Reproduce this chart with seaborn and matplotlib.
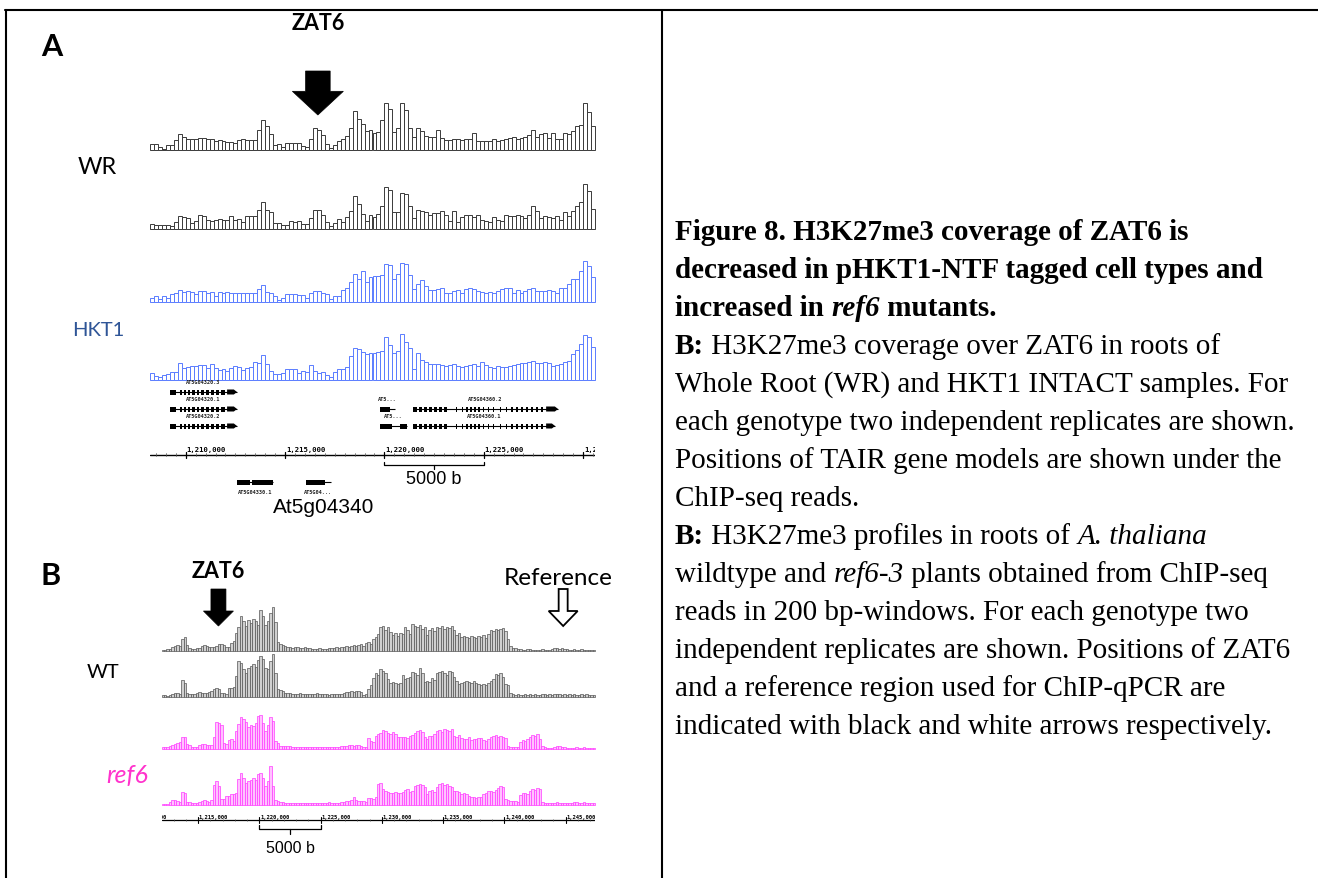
import numpy as np
import pandas as pd
import matplotlib
matplotlib.use("Agg")
import matplotlib.pyplot as plt
import seaborn as sns
from matplotlib.patches import Polygon, Rectangle

# ---------------------------------------------------------------- data
BIN = 200
A_START, A_END = 1208200, 1230600          # panel A window (200 bp bins)
B_START, B_END = 1212000, 1247400          # panel B window (200 bp bins)

WR_REP1 = [6,6,3,1,5,5,10,16,13,11, 11,11,12,12,11,11,9,10,9,8,
           8,7,10,11,10,10,10,20,30,24, 16,5,6,3,7,7,7,7,4,3,
           11,22,20,15,6,2,5,9,11,14, 22,39,31,26,19,20,17,18,30,47,
           41,18,22,47,40,22,13,22,19,14, 13,13,20,12,10,10,11,11,10,11,
           11,17,9,9,9,9,11,9,10,11, 12,13,11,12,13,15,20,13,16,17,
           12,17,11,11,17,16,19,24,25,47, 38,24]
WR_REP2 = [5,4,4,4,4,3,7,13,12,11, 6,8,14,13,9,8,9,10,9,9,
           13,9,10,7,13,13,13,19,27,19, 17,6,6,4,4,8,7,8,5,5,
           11,19,19,14,7,3,6,10,7,12, 18,33,25,15,8,14,12,15,23,42,
           39,17,17,36,35,23,11,19,18,17, 14,16,16,18,14,8,18,7,12,14,
           14,12,14,9,8,7,12,9,8,14, 13,13,14,13,11,14,23,18,11,13,
           12,11,13,9,17,13,18,23,27,45, 38,20]
HKT1_REP1 = [4,6,3,6,4,8,9,12,10,11, 10,8,11,11,9,10,6,10,9,10,
             9,9,9,9,9,9,9,13,17,10, 9,6,2,4,8,8,8,7,7,4,
             9,11,11,9,8,3,6,6,12,14, 20,28,23,31,20,25,26,26,27,38,
             37,23,28,39,38,27,13,18,22,16, 12,12,13,14,9,9,11,12,9,13,
             14,13,11,10,9,10,9,11,13,14, 14,9,12,9,11,13,14,11,11,11,
             12,11,9,14,14,18,23,23,31,41, 36,25]
HKT1_REP2 = [7,4,3,5,6,8,8,17,12,13, 14,14,15,15,12,16,12,10,11,9,
             12,14,13,10,12,13,18,17,25,16, 9,6,6,7,11,11,11,7,9,8,
             15,9,7,8,5,3,8,11,11,13, 24,32,31,28,26,27,27,28,29,43,
             35,27,29,46,38,32,11,27,20,18, 16,16,16,15,14,15,16,14,13,14,
             15,16,14,18,15,13,12,14,13,13, 14,15,16,17,17,18,19,17,17,18,
             17,14,15,16,18,19,26,30,36,45, 43,33]

WT_REP1 = [1,1,2,2,4,5,6,5,12,14, 6,3,2,2,3,3,5,6,5,4,
           4,4,5,7,7,6,4,4,8,10, 18,24,35,30,25,31,28,32,30,26,
           41,35,26,30,38,44,29,9,7,6, 5,4,4,3,4,4,3,3,4,3,
           3,2,2,2,3,2,2,2,3,3, 3,4,3,4,4,5,4,5,6,5,
           6,7,5,8,9,7,12,14,17,24, 25,21,24,19,16,18,15,18,17,24,
           21,17,27,25,24,26,22,24,16,21, 23,20,24,23,25,22,24,23,25,21,
           16,18,14,15,14,13,15,14,13,15, 14,16,13,17,21,20,22,21,22,23,
           20,12,5,3,3,2,2,1,1,2, 2,1,1,1,1,2,1,1,1,2,
           3,3,2,3,2,2,1,1,2,1, 1,2,1,1,1,1,1]
WT_REP2 = [2,2,1,2,3,4,4,3,17,14, 4,3,3,3,4,5,4,4,4,5,
           6,8,9,8,4,4,3,9,9,10, 21,36,34,28,24,29,31,33,30,37,
           41,38,29,28,36,43,24,8,7,6, 4,4,4,3,3,3,4,3,3,3,
           3,3,3,4,3,3,3,3,2,3, 3,3,3,3,4,5,5,6,5,6,
           6,5,2,3,8,12,19,24,22,28, 26,24,18,14,15,14,13,14,22,18,
           19,20,25,24,22,29,24,15,16,15, 19,17,24,25,26,24,22,26,25,20,
           16,13,14,15,16,15,14,16,14,13, 12,13,12,14,16,18,23,22,24,20,
           13,12,4,3,2,3,2,2,3,2, 3,2,3,2,2,3,3,2,3,2,
           3,3,3,2,3,2,3,2,3,2, 2,3,2,3,2,2,2]
REF6_REP1 = [2,2,2,3,4,5,6,7,12,12, 5,4,2,2,2,4,5,5,4,4,
             4,12,27,26,24,6,5,9,10,8, 18,25,32,30,27,22,24,23,26,33,
             34,26,18,24,32,28,8,6,3,3, 3,3,3,2,2,2,2,2,2,2,
             2,2,2,2,2,2,2,2,2,2, 2,2,2,3,3,3,4,4,3,4,
             4,3,2,2,11,8,7,13,15,16, 19,18,16,15,17,15,12,12,12,12,
             11,13,14,16,18,19,17,12,10,13, 13,15,18,19,17,20,19,18,20,13,
             12,14,11,10,10,12,9,10,10,11, 11,9,8,10,12,13,14,12,13,12,
             11,3,2,2,2,2,7,9,8,10, 12,14,13,15,10,3,2,1,1,1,
             2,3,3,2,2,1,1,1,1,2, 1,1,2,1,1,1,1]
REF6_REP2 = [1,1,1,3,5,5,4,3,13,12, 3,3,2,2,2,3,4,5,4,3,
             5,20,24,19,6,6,9,9,11,11, 12,26,32,27,22,24,25,27,25,31,
             32,27,19,24,39,19,5,4,3,3, 2,2,2,2,2,2,2,2,2,2,
             2,2,2,2,2,2,2,2,3,2, 2,2,2,3,3,4,4,5,8,5,
             4,4,4,3,7,7,6,8,21,22, 16,14,13,12,12,13,12,12,13,15,
             16,13,14,19,20,21,20,18,11,14, 15,13,18,21,22,20,21,19,18,14,
             14,13,11,12,11,9,8,8,7,8, 8,11,12,14,14,13,15,17,19,18,
             6,5,4,4,4,3,10,12,12,11, 14,16,15,17,16,3,2,2,2,2,
             2,3,2,2,2,2,2,2,3,3, 2,2,3,2,2,2,2]

ZAT6_POS = 1216650
REF_POS = 1244800
A_TICKS = [1210000, 1215000, 1220000, 1225000, 1230000]
B_TICKS = [1210000, 1215000, 1220000, 1225000, 1230000, 1235000, 1240000, 1245000]
SCALE_BAR = (1220000, 1225000)

# gene models (TAIR)
AT5G04320_EXONS = [(1209210,1209510),(1209710,1209810),(1209910,1210010),(1210110,1210210),
                   (1210310,1210460),(1210570,1210670),(1210770,1210920),(1211020,1211170),
                   (1211270,1211420),(1211520,1211670),(1211770,1211980),(1212080,1212580)]
AT5G04350_2_EXONS = [(1219780,1220280)]
AT5G04350_1_EXONS = [(1219780,1220380),(1220790,1221140)]
AT5G04360_EXONS = [(1221440,1221640),(1221740,1221890),(1221990,1222140),(1222250,1222400),
                   (1222500,1222650),(1222750,1222900),(1223000,1223150),(1223600,1223650),
                   (1223910,1223960),(1224110,1224210),(1224310,1224410),(1224510,1224610),
                   (1224710,1224810),(1224960,1225010),(1225220,1225270),(1225470,1225520),
                   (1225820,1225870),(1226120,1226170),(1226370,1226470),(1226620,1226720),
                   (1226880,1226980),(1227130,1227230),(1227380,1227480),(1227630,1227730),
                   (1227880,1227980),(1228140,1228740)]
AT5G04360_1_LAST = (1228140,1228590)
AT5G04330_EXONS = [(1212580,1213230),(1213340,1214390)]
AT5G04340_EXONS = [(1216050,1217010)]

CAPTION = [
    [("Figure 8. H3K27me3 coverage of ZAT6 is", "bold", "normal")],
    [("decreased in pHKT1-NTF tagged cell types and", "bold", "normal")],
    [("increased in ", "bold", "normal"), ("ref6", "bold", "italic"), (" mutants.", "bold", "normal")],
    [("B:", "bold", "normal"), (" H3K27me3 coverage over ZAT6 in roots of", "normal", "normal")],
    [("Whole Root (WR) and HKT1 INTACT samples. For", "normal", "normal")],
    [("each genotype two independent replicates are shown.", "normal", "normal")],
    [("Positions of TAIR gene models are shown under the", "normal", "normal")],
    [("ChIP-seq reads.", "normal", "normal")],
    [("B:", "bold", "normal"), (" H3K27me3 profiles in roots of ", "normal", "normal"),
     ("A. thaliana", "normal", "italic")],
    [("wildtype and ", "normal", "normal"), ("ref6-3", "normal", "italic"),
     (" plants obtained from ChIP-seq", "normal", "normal")],
    [("reads in 200 bp-windows. For each genotype two", "normal", "normal")],
    [("independent replicates are shown. Positions of ZAT6", "normal", "normal")],
    [("and a reference region used for ChIP-qPCR are", "normal", "normal")],
    [("indicated with black and white arrows respectively.", "normal", "normal")],
]

# ---------------------------------------------------------------- figure
W, H, DPI = 1318, 879, 100
sns.set_theme(style="white")
plt.rcParams['font.family'] = ['Lato', 'DejaVu Sans']
plt.rcParams['text.color'] = 'black'

fig = plt.figure(figsize=(W / DPI, H / DPI), dpi=DPI, facecolor="white")
ov = fig.add_axes([0, 0, 1, 1], zorder=0)
ov.set_xlim(0, W); ov.set_ylim(H, 0); ov.axis("off")

A_PX = (150.0, 595.0)
B_PX = (161.5, 595.0)


def gxA(g):
    return A_PX[0] + (g - A_START) / (A_END - A_START) * (A_PX[1] - A_PX[0])


def gxB(g):
    return B_PX[0] + (g - B_START) / (B_END - B_START) * (B_PX[1] - B_PX[0])


def px_axes(x0, y0, x1, y1, z=2):
    ax = fig.add_axes([x0 / W, 1 - y1 / H, (x1 - x0) / W, (y1 - y0) / H], zorder=z)
    ax.patch.set_alpha(0)
    return ax


def track(vals, start, end, pxr, baseline, top, face, edge, lw):
    ax = px_axes(pxr[0], baseline - top, pxr[1], baseline)
    edges = [float(e) for e in range(start, end + BIN, BIN)]
    df = pd.DataFrame({"pos": [e + BIN / 2 for e in edges[:-1]],
                       "signal": [float(v) for v in vals]})
    sns.histplot(data=df, x="pos", weights="signal", bins=edges, ax=ax,
                 element="bars", fill=True, facecolor=face, edgecolor=edge,
                 linewidth=lw, alpha=1)
    for p in ax.patches:
        p.set_clip_on(False)
    ax.set_xlim(start, end); ax.set_ylim(0, top); ax.axis("off")
    return ax


# panel A tracks
track(WR_REP1, A_START, A_END, A_PX, 150.7, 50, "white", "#3a3a3a", 0.7)
track(WR_REP2, A_START, A_END, A_PX, 230.0, 50, "white", "#3a3a3a", 0.7)
track(HKT1_REP1, A_START, A_END, A_PX, 302.7, 50, "white", "#5a7cff", 0.7)
track(HKT1_REP2, A_START, A_END, A_PX, 381.0, 50, "white", "#5a7cff", 0.7)

# panel B tracks
track(WT_REP1, B_START, B_END, B_PX, 652.0, 46, "#d0d0d0", "#555555", 0.5)
track(WT_REP2, B_START, B_END, B_PX, 697.7, 46, "#d0d0d0", "#555555", 0.5)
track(REF6_REP1, B_START, B_END, B_PX, 750.0, 46, "#ffc2ff", "#ff3cff", 0.5)
track(REF6_REP2, B_START, B_END, B_PX, 805.7, 46, "#ffc2ff", "#ff3cff", 0.5)

# ---------------------------------------------------------------- gene models + ruler A
ga = px_axes(A_PX[0], 375, A_PX[1], 520, z=3)
ga.set_xlim(A_START, A_END); ga.set_ylim(520, 375); ga.axis("off")
MONO = ["DejaVu Sans Mono"]


def gene(ax, exons, y, label, end=None, arrow=False, label_dy=-10, h=5.0, lab_size=3.8):
    s = exons[0][0]
    e = end if end is not None else exons[-1][1]
    ax.plot([s, e], [y, y], color="black", lw=0.8, solid_capstyle="butt")
    for i, (a, b) in enumerate(exons):
        if arrow and i == len(exons) - 1:
            tip = min(160, (b - a) * 0.5)
            ax.add_patch(Polygon([(a, y - h / 2), (b - tip, y - h / 2), (b, y),
                                  (b - tip, y + h / 2), (a, y + h / 2)],
                                 closed=True, color="black", lw=0))
        else:
            ax.add_patch(Rectangle((a, y - h / 2), b - a, h, color="black", lw=0))
    ax.text((s + e) / 2, y + label_dy, label, fontsize=lab_size, family=MONO,
            fontweight="bold", ha="center", va="center", color="#222222")


gene(ga, AT5G04320_EXONS, 393, "AT5G04320.3", arrow=True)
gene(ga, AT5G04320_EXONS, 410, "AT5G04320.1", arrow=True)
gene(ga, AT5G04320_EXONS, 427, "AT5G04320.2", arrow=True)
gene(ga, AT5G04350_2_EXONS, 410, "AT5...", end=1220530)
gene(ga, AT5G04350_1_EXONS, 427, "AT5...")
gene(ga, AT5G04360_EXONS, 410, "AT5G04360.2", arrow=True)
gene(ga, AT5G04360_EXONS[:-1] + [AT5G04360_1_LAST], 427, "AT5G04360.1", arrow=True)
gene(ga, AT5G04330_EXONS, 483, "AT5G04330.1", label_dy=10)
gene(ga, AT5G04340_EXONS, 483, "AT5G04...", end=1217310, label_dy=10)

# ruler A
ga.plot([A_START, A_END], [455.7, 455.7], color="black", lw=1.0)
for t in range(1208500, A_END, 500):
    ga.plot([t, t], [454.2, 457.3], color="#555555", lw=0.5)
for t in A_TICKS:
    ga.plot([t, t], [452.5, 459.0], color="black", lw=0.9)
    ga.text(t + 40, 452.0, f"{t:,}", fontsize=5.2, family=MONO, fontweight="bold",
            ha="left", va="baseline", clip_on=True)
# scale bar A
s0, s1 = SCALE_BAR
ga.plot([s0, s0, s1, s1], [462.8, 466.2, 466.2, 462.8], color="black", lw=0.9)
ga.plot([(s0 + s1) / 2] * 2, [466.2, 469.5], color="black", lw=0.9)

# ---------------------------------------------------------------- ruler B
gb = px_axes(B_PX[0], 808, B_PX[1], 860, z=3)
gb.set_xlim(B_START, B_END); gb.set_ylim(860, 808); gb.axis("off")
gb.plot([B_START, B_END], [821, 821], color="black", lw=0.9)
for t in range(1213000, B_END, 1000):
    gb.plot([t, t], [819.8, 822.2], color="#555555", lw=0.4)
for t in B_TICKS:
    gb.plot([t, t], [818.3, 823.8], color="black", lw=0.8)
    gb.text(t + 60, 819.3, f"{t:,}", fontsize=4.0, family=MONO, fontweight="bold",
            ha="left", va="baseline", clip_on=True)
gb.plot([s0, s0, s1, s1], [826.5, 830.2, 830.2, 826.5], color="black", lw=0.9)
gb.plot([(s0 + s1) / 2] * 2, [830.2, 835], color="black", lw=0.9)

# ---------------------------------------------------------------- frame
ov.plot([5, W], [11, 11], color="black", lw=1.5)
ov.plot([6, 6], [11, H], color="black", lw=1.5)
ov.plot([662, 662], [11, H], color="black", lw=1.5)

# ---------------------------------------------------------------- arrows


def down_arrow(cx, top, base, tip, shaft_hw, head_hw, face, edge, lw):
    ov.add_patch(Polygon([(cx - shaft_hw, top), (cx + shaft_hw, top), (cx + shaft_hw, base),
                          (cx + head_hw, base), (cx, tip), (cx - head_hw, base),
                          (cx - shaft_hw, base)], closed=True, facecolor=face,
                         edgecolor=edge, lw=lw, joinstyle="miter", zorder=5))


down_arrow(gxA(ZAT6_POS), 72, 92.3, 116, 12.3, 25.5, "black", "black", 0.5)
down_arrow(gxB(ZAT6_POS), 590, 612, 627, 7.5, 15.0, "black", "black", 0.5)
down_arrow(gxB(REF_POS), 590, 612, 627, 4.5, 14.5, "white", "black", 1.3)

# ---------------------------------------------------------------- left labels
ov.text(52, 47, "A", fontsize=22, fontweight="bold", ha="center", va="center")
ov.text(51, 576, "B", fontsize=22, fontweight="bold", ha="center", va="center")
ov.text(gxA(ZAT6_POS), 23, "ZAT6", fontsize=15.5, fontweight="bold", ha="center", va="center")
ov.text(gxB(ZAT6_POS), 572, "ZAT6", fontsize=15.5, fontweight="bold", ha="center", va="center")
ov.text(558, 579, "Reference", fontsize=17.5, ha="center", va="center")
ov.text(97, 167.5, "WR", fontsize=17, ha="center", va="center")
ov.text(98, 331, "HKT1", fontsize=14.5, ha="center", va="center", color="#2f5597")
ov.text(103, 673, "WT", fontsize=14.5, ha="center", va="center")
ov.text(127, 776, "ref6", fontsize=18, ha="center", va="center", color="#ff33cc",
        fontstyle="italic")
ov.text(gxA(sum(SCALE_BAR) / 2), 480, "5000 b", fontsize=13,
        family=["Liberation Sans"], ha="center", va="center")
ov.text(324, 508, "At5g04340", fontsize=15, family=["Liberation Sans"],
        ha="center", va="center")
ov.text(gxB(sum(SCALE_BAR) / 2), 849, "5000 b", fontsize=11.5,
        family=["Liberation Sans"], ha="center", va="center")

# ---------------------------------------------------------------- caption
renderer = fig.canvas.get_renderer()
SERIF = ["Liberation Serif", "DejaVu Serif"]
CAP_SIZE = 21


def run_width(txt, wt, st):
    def w(s):
        t = ov.text(0, 0, s, fontsize=CAP_SIZE, fontweight=wt, fontstyle=st, family=SERIF)
        bb = t.get_window_extent(renderer=renderer)
        t.remove()
        return bb.width
    return w(txt + "|") - w("|")


x_left, y0, dy = 675, 240, 38
for i, runs in enumerate(CAPTION):
    x = x_left
    y = y0 + i * dy
    for txt, wt, st in runs:
        ov.text(x, y, txt, fontsize=CAP_SIZE, fontweight=wt, fontstyle=st, family=SERIF,
                ha="left", va="baseline", color="black")
        x += run_width(txt, wt, st)

fig.savefig("out.png", dpi=DPI, facecolor="white")
